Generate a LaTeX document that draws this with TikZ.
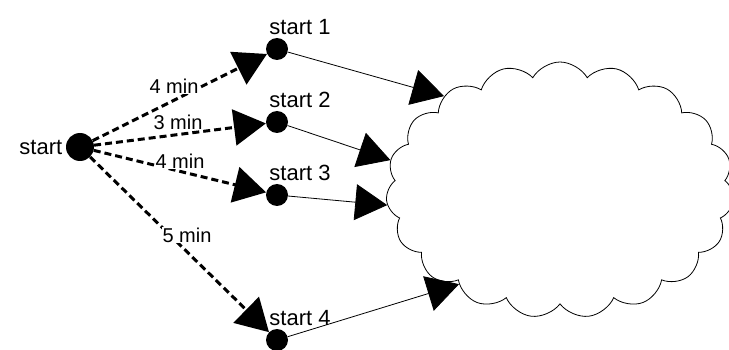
\documentclass[tikz,border=0pt]{standalone}
\usepackage{fontspec}
\setmainfont{Liberation Sans}
\usetikzlibrary{arrows.meta,shapes.symbols}

\begin{document}
\begin{tikzpicture}[x=1pt,y=-1pt,
  dot/.style={circle,fill=black,inner sep=0pt,minimum size=22pt},
  dashline/.style={line width=3pt,dash pattern=on 7pt off 4pt,-{Triangle[length=32pt,width=36pt]}},
  thinline/.style={line width=0.8pt,-{Triangle[length=32pt,width=36pt]}},
  mins/.style={fill=white,inner sep=1pt,font=\fontsize{20}{24}\selectfont},
  lbl/.style={font=\fontsize{22}{26}\selectfont}]
\useasboundingbox (0,0) rectangle (729,350);

\node[cloud, draw, line width=0.8pt, cloud puffs=19, cloud puff arc=120, cloud ignores aspect,
      minimum width=348pt, minimum height=256pt] (pool) at (560,190) {};

\node[dot, minimum size=28pt, label={[lbl]left:start}] (st) at (80,147) {};
\node[dot, label={[lbl,xshift=23pt]above:start 1}] (s1) at (277,49) {};
\node[dot, label={[lbl,xshift=23pt]above:start 2}] (s2) at (277,122) {};
\node[dot, label={[lbl,xshift=23pt]above:start 3}] (s3) at (277,195) {};
\node[dot, label={[lbl,xshift=23pt]above:start 4}] (s4) at (277,340) {};

\draw[dashline] (st) -- (s1);
\draw[dashline] (st) -- (s2);
\draw[dashline] (st) -- (s3);
\draw[dashline] (st) -- (s4);

\draw[thinline] (s1) -- (pool.141);
\draw[thinline] (s2) -- (pool.170);
\draw[thinline] (s3) -- (pool.185);
\draw[thinline] (s4) -- (pool.223);

\node[mins] (m1) at (174,86) {4 min};
\node[mins] (m2) at (178,122) {3 min};
\node[mins] (m3) at (180,161) {4 min};
\node[mins] (m4) at (187,235) {5 min};
\end{tikzpicture}
\end{document}
